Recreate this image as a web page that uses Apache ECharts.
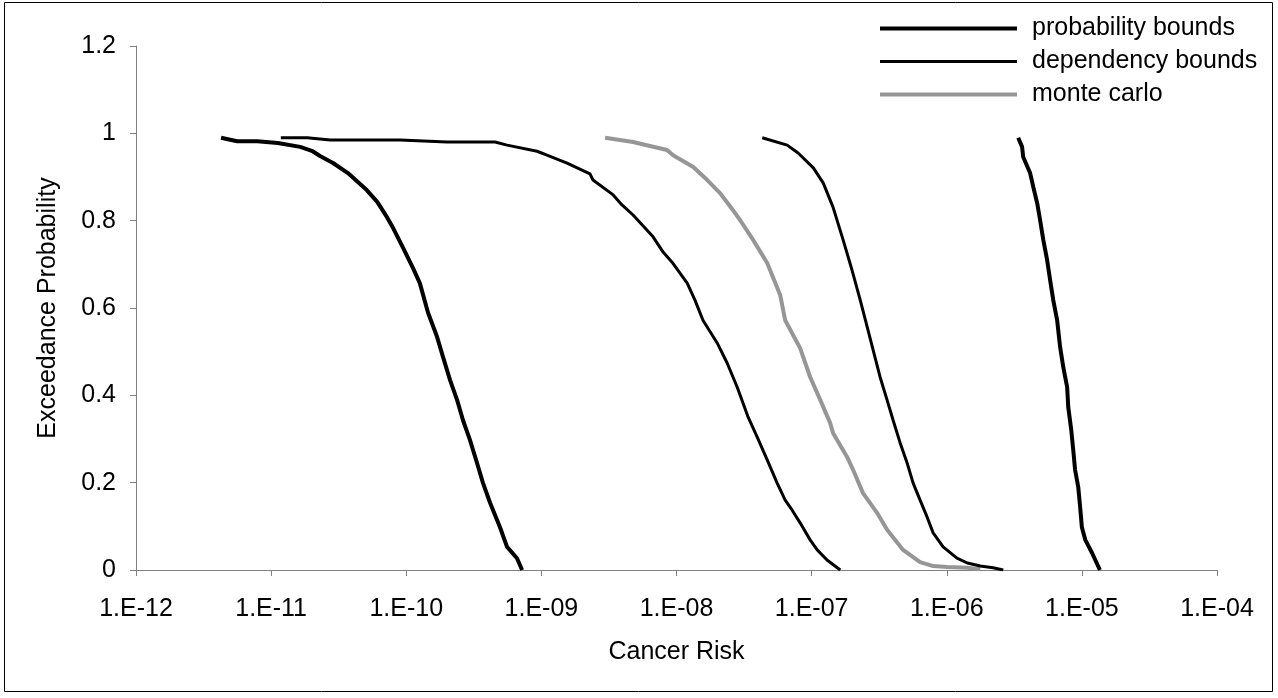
<!DOCTYPE html>
<html>
<head>
<meta charset="utf-8">
<script src="https://cdn.jsdelivr.net/npm/echarts@6/dist/echarts.min.js"></script>
<style>
  html, body { margin: 0; padding: 0; background: #fff; }
  #chart { width: 1278px; height: 698px; }
</style>
</head>
<body>
<div id="chart"></div>
<script>
// lower / upper probability bounds
const probLowRisk = [4.26e-12, 5.6e-12, 7.9e-12, 1.12e-11, 1.64e-11, 2.0e-11, 2.3e-11, 2.87e-11, 3.7e-11, 5.1e-11, 6.1e-11, 7.2e-11, 8.0e-11, 9.5e-11, 1.12e-10, 1.26e-10, 1.45e-10, 1.69e-10, 1.87e-10, 2.11e-10, 2.38e-10, 2.63e-10, 2.96e-10, 3.34e-10, 3.70e-10, 4.17e-10, 4.94e-10, 5.57e-10, 6.6e-10, 7.2e-10];
const probLowP = [0.99, 0.982, 0.982, 0.978, 0.969, 0.96, 0.948, 0.932, 0.909, 0.87, 0.843, 0.808, 0.783, 0.737, 0.692, 0.657, 0.589, 0.534, 0.488, 0.435, 0.389, 0.343, 0.298, 0.245, 0.199, 0.154, 0.098, 0.053, 0.027, 0.0];
const probHighRisk = [3.38e-6, 3.61e-6, 3.68e-6, 4.14e-6, 4.37e-6, 4.67e-6, 4.91e-6, 5.18e-6, 5.53e-6, 5.82e-6, 6.14e-6, 6.56e-6, 6.90e-6, 7.28e-6, 7.78e-6, 7.93e-6, 8.34e-6, 8.63e-6, 8.91e-6, 9.40e-6, 9.71e-6, 1.00e-5, 1.06e-5, 1.19e-5, 1.36e-5];
const probHighP = [0.99, 0.969, 0.946, 0.909, 0.877, 0.84, 0.801, 0.756, 0.71, 0.664, 0.618, 0.572, 0.511, 0.465, 0.419, 0.373, 0.321, 0.275, 0.229, 0.19, 0.144, 0.098, 0.069, 0.039, 0.0];

// dependency bounds
const depLowRisk = [1.18e-11, 1.85e-11, 2.73e-11, 9.0e-11, 2.0e-10, 4.54e-10, 5.57e-10, 9.3e-10, 1.10e-9, 1.55e-9, 2.29e-9, 2.41e-9, 3.40e-9, 3.95e-9, 4.77e-9, 6.71e-9, 7.96e-9, 9.27e-9, 1.20e-8, 1.37e-8, 1.57e-8, 2.0e-8, 2.37e-8, 2.81e-8, 3.11e-8, 3.39e-8, 3.95e-8, 4.69e-8, 5.56e-8, 6.37e-8, 7.18e-8, 8.22e-8, 9.75e-8, 1.10e-7, 1.30e-7, 1.63e-7];
const depLowP = [0.99, 0.99, 0.985, 0.985, 0.98, 0.98, 0.973, 0.959, 0.95, 0.932, 0.907, 0.893, 0.859, 0.836, 0.813, 0.763, 0.728, 0.705, 0.657, 0.618, 0.572, 0.52, 0.474, 0.419, 0.382, 0.35, 0.305, 0.252, 0.199, 0.16, 0.137, 0.108, 0.069, 0.046, 0.023, 0.0];
const depHighRisk = [4.31e-8, 6.59e-8, 7.94e-8, 1.03e-7, 1.22e-7, 1.44e-7, 1.71e-7, 1.96e-7, 2.29e-7, 2.58e-7, 2.85e-7, 3.21e-7, 3.62e-7, 4.01e-7, 4.52e-7, 5.09e-7, 5.64e-7, 6.35e-7, 7.16e-7, 7.93e-7, 9.40e-7, 1.19e-6, 1.42e-6, 1.77e-6, 2.20e-6, 2.62e-6];
const depHighP = [0.99, 0.973, 0.955, 0.921, 0.886, 0.831, 0.756, 0.694, 0.618, 0.556, 0.504, 0.442, 0.389, 0.343, 0.291, 0.245, 0.199, 0.16, 0.121, 0.085, 0.053, 0.027, 0.016, 0.009, 0.005, 0.0];

// monte carlo
const mcRisk = [2.96e-9, 4.77e-9, 8.51e-9, 9.44e-9, 1.33e-8, 1.69e-8, 2.10e-8, 2.62e-8, 2.96e-8, 3.69e-8, 4.69e-8, 5.85e-8, 6.37e-8, 8.22e-8, 9.75e-8, 1.16e-7, 1.37e-7, 1.44e-7, 1.83e-7, 2.03e-7, 2.40e-7, 3.05e-7, 3.62e-7, 4.75e-7, 6.35e-7, 7.93e-7, 1.01e-6, 1.42e-6, 1.77e-6];
const mcP = [0.99, 0.98, 0.962, 0.95, 0.923, 0.893, 0.863, 0.824, 0.801, 0.756, 0.703, 0.63, 0.572, 0.508, 0.442, 0.389, 0.337, 0.314, 0.259, 0.229, 0.176, 0.131, 0.092, 0.046, 0.018, 0.009, 0.007, 0.005, 0.002];

const legendNames = ['probability bounds', 'dependency bounds', 'monte carlo'];
const legendWidths = [4, 3, 4];

const pairs = (xs, ys) => xs.map((x, i) => [x, ys[i]]);
const font = 'Liberation Sans, Arial, sans-serif';
const fs = 25;

// 1.E-12 style labels
const expLabel = v => {
    const e = Math.round(Math.log10(v));
    return '1.E' + (e < 0 ? '-' : '+') + String(Math.abs(e)).padStart(2, '0');
};

const lineSeries = (name, xs, ys, color, width) => ({
    name,
    type: 'line',
    data: pairs(xs, ys),
    symbol: 'none',
    lineStyle: { color, width },
    itemStyle: { color },
    z: color === '#000' ? 3 : 2
});

const myChart = echarts.init(document.getElementById('chart'));
const option = {
    animation: false,
    textStyle: { fontFamily: font },
    graphic: [{
        type: 'rect',
        shape: { x: 4.5, y: 2.5, width: 1268, height: 689 },
        style: { fill: null, stroke: '#000', lineWidth: 1 }
    }],
    legend: {
        data: legendNames.map((n, i) => ({ name: n, lineStyle: { width: legendWidths[i] } })),
        orient: 'vertical',
        left: 873,
        top: 11,
        itemWidth: 137,
        itemHeight: 14,
        itemGap: 8,
        itemStyle: { opacity: 0, borderWidth: 0 },
        textStyle: { fontSize: fs, color: '#000', fontFamily: font, padding: [0, 0, 0, 10] }
    },
    grid: { left: 136, right: 61, top: 46, bottom: 128 },
    xAxis: {
        type: 'log',
        logBase: 10,
        min: 1e-12,
        max: 1e-4,
        splitNumber: 8,
        name: 'Cancer Risk',
        nameLocation: 'middle',
        nameGap: 70,
        nameTextStyle: { fontSize: fs, color: '#000' },
        axisLine: { lineStyle: { color: '#808080', width: 1 } },
        axisTick: { show: true, length: 6, lineStyle: { color: '#808080' } },
        axisLabel: { formatter: expLabel, fontSize: fs, color: '#000', margin: 27 },
        splitLine: { show: false },
        minorTick: { show: false }
    },
    yAxis: {
        type: 'value',
        min: 0,
        max: 1.2,
        interval: 0.2,
        name: 'Exceedance Probability',
        nameLocation: 'middle',
        nameGap: 75,
        nameTextStyle: { fontSize: fs, color: '#000' },
        axisLine: { show: true, lineStyle: { color: '#808080', width: 1 } },
        axisTick: { show: true, length: 6, lineStyle: { color: '#808080' } },
        axisLabel: { fontSize: fs, color: '#000', margin: 20 },
        splitLine: { show: false }
    },
    series: [
        lineSeries('monte carlo', mcRisk, mcP, '#969696', 4),
        lineSeries('dependency bounds', depLowRisk, depLowP, '#000', 3),
        lineSeries('dependency bounds', depHighRisk, depHighP, '#000', 3),
        lineSeries('probability bounds', probLowRisk, probLowP, '#000', 4),
        lineSeries('probability bounds', probHighRisk, probHighP, '#000', 4)
    ]
};
myChart.setOption(option);
</script>
</body>
</html>
